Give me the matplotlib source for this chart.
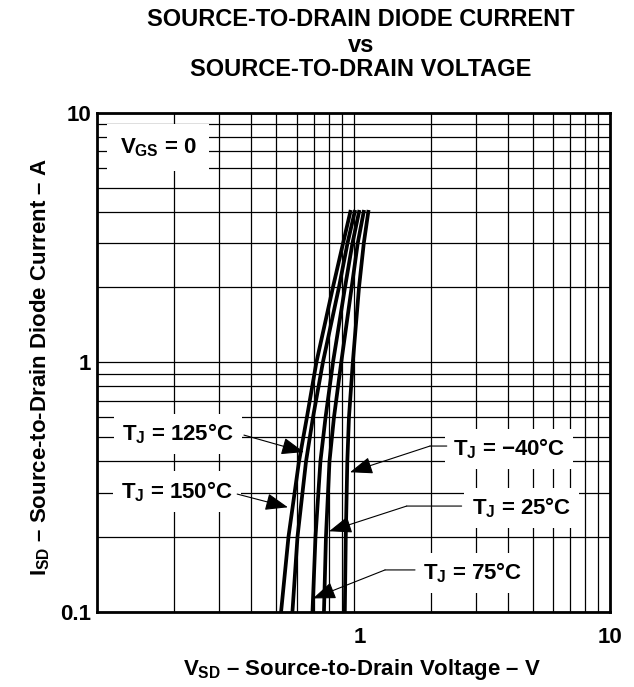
import matplotlib
matplotlib.use("Agg")
import matplotlib.pyplot as plt
from matplotlib.ticker import NullFormatter

# fonts: bold sans everywhere, mathtext only used for subscripts
plt.rcParams['font.family'] = ['Liberation Sans', 'DejaVu Sans']
plt.rcParams['font.weight'] = 'bold'
plt.rcParams['mathtext.fontset'] = 'custom'
plt.rcParams['mathtext.rm'] = 'Liberation Sans:bold'
plt.rcParams['mathtext.it'] = 'Liberation Sans:bold'
plt.rcParams['mathtext.bf'] = 'Liberation Sans:bold'

# Source-to-drain current (A) at which the voltages below were read
i_sd = [0.1, 0.2, 0.4, 0.6, 1, 2, 3, 4]

# V_SD (V) for each junction temperature
v_150 = [0.522, 0.558, 0.613, 0.658, 0.717, 0.832, 0.911, 0.972]
v_125 = [0.578, 0.605, 0.653, 0.695, 0.760, 0.878, 0.948, 1.011]
v_75 = [0.692, 0.711, 0.743, 0.778, 0.832, 0.927, 0.991, 1.051]
v_25 = [0.767, 0.781, 0.806, 0.839, 0.896, 0.984, 1.039, 1.096]
v_m40 = [0.925, 0.933, 0.946, 0.960, 0.994, 1.051, 1.097, 1.142]
curves = [v_150, v_125, v_75, v_25, v_m40]

x_ticks = [1, 10]
x_tick_labels = ['1', '10']
y_ticks = [0.1, 1, 10]
y_tick_labels = ['0.1', '1', '10']

# callouts: text, text centre, line start, elbow (or None), arrow tip
callouts = [
    (r'$T_J$ = 125°C', (0.207, 0.515), (0.374, 0.510), None, (0.641, 0.436)),
    (r'$T_J$ = 150°C', (0.205, 0.303), (0.352, 0.296), None, (0.555, 0.262)),
    (r'$T_J$ = $-$40°C', (4.03, 0.448), (2.31, 0.461), (1.987, 0.461), (0.969, 0.362)),
    (r'$T_J$ = 25°C', (4.51, 0.261), (2.64, 0.265), (1.612, 0.265), (0.803, 0.210)),
    (r'$T_J$ = 75°C', (2.91, 0.1434), (1.737, 0.147), (1.327, 0.147), (0.695, 0.113)),
]

W, H = 634, 687
fig = plt.figure(figsize=(W / 100, H / 100), dpi=100)
ax = fig.add_axes([97 / W, 1 - 611.7 / H, 513 / W, 499.2 / H])
ax.set_xscale('log')
ax.set_yscale('log')
ax.set_xlim(0.1, 10)
ax.set_ylim(0.1, 10)

ax.grid(True, which='both', color='black', lw=0.9)
ax.set_axisbelow(True)
for s in ax.spines.values():
    s.set_linewidth(2.0)

ax.set_xticks(x_ticks)
ax.set_xticklabels(x_tick_labels)
ax.set_yticks(y_ticks)
ax.set_yticklabels(y_tick_labels)
ax.xaxis.set_minor_formatter(NullFormatter())
ax.yaxis.set_minor_formatter(NullFormatter())
ax.tick_params(which='both', length=0)
ax.tick_params(axis='x', pad=11, labelsize=16)
ax.tick_params(axis='y', pad=4, labelsize=16)
ax.get_xticklabels()[0].set_ha('left')

for v in curves:
    ax.plot(v, i_sd, color='black', lw=2.7, zorder=3, solid_joinstyle='round')

# V_GS box
ax.text(0.173, 7.23, r'$V_{GS}$ = 0', fontsize=16, ha='center', va='center',
        bbox=dict(boxstyle='square,pad=0.55', fc='white', ec='none'), zorder=4)

arrow_kw = dict(arrowstyle='-|>,head_length=1.0,head_width=0.38', color='black',
                lw=0.8, shrinkA=0, shrinkB=0, mutation_scale=14)
line_kw = dict(arrowstyle='-', color='black', lw=0.8, shrinkA=0, shrinkB=0)

for txt, pos, start, elbow, tip in callouts:
    ax.text(pos[0], pos[1], txt, fontsize=16, ha='center', va='center',
            bbox=dict(boxstyle='square,pad=0.35', fc='white', ec='none'), zorder=4)
    if elbow is None:
        ax.annotate('', xy=tip, xytext=start, arrowprops=arrow_kw, zorder=5)
    else:
        ax.annotate('', xy=elbow, xytext=start, arrowprops=line_kw, zorder=5)
        ax.annotate('', xy=tip, xytext=elbow, arrowprops=arrow_kw, zorder=5)

# titles and axis labels
fig.text(361 / W, 1 - 19 / H, 'SOURCE-TO-DRAIN DIODE CURRENT', fontsize=17,
         ha='center', va='center')
fig.text(361 / W, 1 - 45 / H, 'vs', fontsize=17, ha='center', va='center')
fig.text(361 / W, 1 - 70 / H, 'SOURCE-TO-DRAIN VOLTAGE', fontsize=17,
         ha='center', va='center')
fig.text(362 / W, 1 - 670 / H, r'$V_{SD}$ – Source-to-Drain Voltage – V',
         fontsize=16, ha='center', va='center')
fig.text(40 / W, 1 - 367 / H, r'$I_{SD}$ – Source-to-Drain Diode Current – A',
         fontsize=16, ha='center', va='center', rotation=90)

fig.savefig('out.png', dpi=100)
